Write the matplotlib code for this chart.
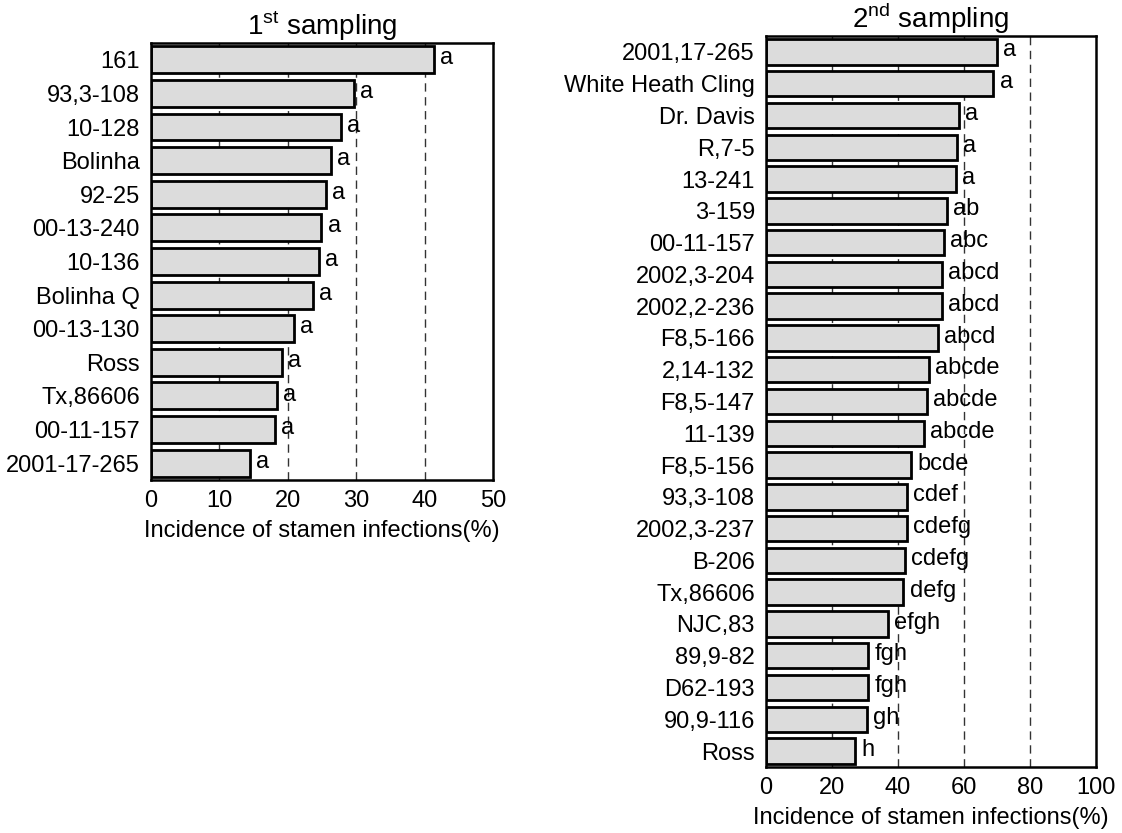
import matplotlib.pyplot as plt

# Data
first_labels = ["161", "93,3-108", "10-128", "Bolinha", "92-25", "00-13-240", "10-136",
                "Bolinha Q", "00-13-130", "Ross", "Tx,86606", "00-11-157", "2001-17-265"]
first_values = [41.3, 29.7, 27.8, 26.3, 25.6, 24.9, 24.5, 23.7, 20.9, 19.1, 18.4, 18.1, 14.5]
first_letters = ["a"] * 13

second_labels = ["2001,17-265", "White Heath Cling", "Dr. Davis", "R,7-5", "13-241", "3-159",
                 "00-11-157", "2002,3-204", "2002,2-236", "F8,5-166", "2,14-132", "F8,5-147",
                 "11-139", "F8,5-156", "93,3-108", "2002,3-237", "B-206", "Tx,86606", "NJC,83",
                 "89,9-82", "D62-193", "90,9-116", "Ross"]
second_values = [69.9, 68.9, 58.5, 57.8, 57.5, 54.8, 54.0, 53.3, 53.3, 52.2, 49.3, 48.8,
                 47.8, 43.9, 42.8, 42.7, 42.2, 41.6, 36.9, 30.9, 30.9, 30.6, 27.0]
second_letters = ["a", "a", "a", "a", "a", "ab", "abc", "abcd", "abcd", "abcd", "abcde",
                  "abcde", "abcde", "bcde", "cdef", "cdefg", "cdefg", "defg", "efgh", "fgh",
                  "fgh", "gh", "h"]

plt.rcParams['font.family'] = ['Liberation Sans', 'DejaVu Sans']
plt.rcParams['mathtext.fontset'] = 'custom'
plt.rcParams['mathtext.rm'] = 'Liberation Sans'
plt.rcParams['font.size'] = 17


def draw_panel(ax, labels, values, letters, xmax, xstep, title):
    n = len(labels)
    ypos = list(range(n - 1, -1, -1))
    ax.barh(ypos, values, height=0.8, color="#dcdcdc", edgecolor="black",
            linewidth=2.0, zorder=2)
    for y, v, t in zip(ypos, values, letters):
        ax.annotate(t, (v, y), xytext=(4.5, 1), textcoords="offset points",
                    va="center", ha="left", fontsize=17, zorder=3)
    ax.set_xlim(0, xmax)
    ax.set_ylim(-0.5, n - 0.5)
    ticks = list(range(0, xmax + 1, xstep))
    ax.set_xticks(ticks)
    ax.set_yticks(ypos)
    ax.set_yticklabels(labels)
    for t in ticks[1:-1]:
        ax.axvline(t, color="#333333", linewidth=1.0, linestyle=(0, (6, 4)), zorder=1)
    ax.tick_params(length=0, labelsize=17)
    ax.tick_params(axis="x", pad=7)
    ax.tick_params(axis="y", pad=8)
    for s in ax.spines.values():
        s.set_linewidth(1.8)
    ax.set_xlabel("Incidence of stamen infections(%)", fontsize=17, labelpad=6)
    ax.set_title(title, fontsize=20, pad=0)


fig = plt.figure(figsize=(11.22, 8.33), dpi=100)
ax1 = fig.add_axes([0.1346, 0.4238, 0.3048, 0.5246])
ax2 = fig.add_axes([0.6827, 0.0792, 0.2941, 0.8776])

draw_panel(ax1, first_labels, first_values, first_letters, 50, 10, r"1$^{\mathrm{st}}$ sampling")
draw_panel(ax2, second_labels, second_values, second_letters, 100, 20, r"2$^{\mathrm{nd}}$ sampling")

plt.savefig("out.png", dpi=100)
